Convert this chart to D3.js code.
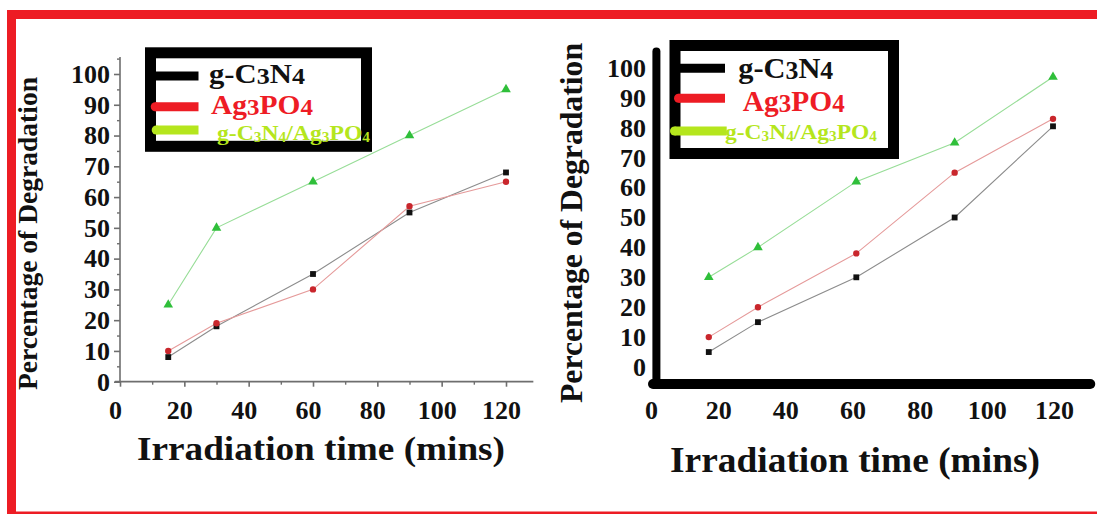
<!DOCTYPE html>
<html>
<head>
<meta charset="utf-8">
<script src="https://cdn.jsdelivr.net/npm/d3@7"></script>
<style>
  html, body { margin: 0; padding: 0; background: #ffffff; }
  svg { display: block; }
  text { font-family: "Liberation Serif", "Times New Roman", serif; font-weight: bold; }
</style>
</head>
<body>
<svg id="chart" width="1097" height="515"></svg>
<script>
// ---------------- data ----------------
const times = [15, 30, 60, 90, 120];
const seriesNames = ["g-C3N4", "Ag3PO4", "g-C3N4/Ag3PO4"];

const leftCN = [8, 18, 35, 55, 68];
const leftAg = [10, 19, 30, 57, 65];
const leftComposite = [25, 50, 65, 80, 95];

const rightCN = [5, 15, 30, 50, 80.5];
const rightAg = [10, 20, 38, 65, 83];
const rightComposite = [30, 40, 62, 75, 97];

const xTickValues = [0, 20, 40, 60, 80, 100, 120];
const xMinorValues = [10, 30, 50, 70, 90, 110];
const yTickValues = [0, 10, 20, 30, 40, 50, 60, 70, 80, 90, 100];
const yMinorValues = [5, 15, 25, 35, 45, 55, 65, 75, 85, 95, 105];

const xTitle = "Irradiation time (mins)";
const yTitle = "Percentage of Degradation";

// ---------------- styles ----------------
const serif = '"Liberation Serif", "Times New Roman", serif';
const frameRed = "#ed1c24";
const markerColors = ["#111111", "#c9262c", "#2fbf3a"];
const lineColors = ["#8c8c8c", "#e59a9a", "#97dd97"];
const legendLineColors = ["#000000", "#ed1c24", "#b5e61d"];
const legendTextColors = ["#111111", "#ee1c25", "#b5e61d"];

const svg = d3.select("#chart");

// ---------------- red frame ----------------
svg.append("rect").attr("x", 7).attr("y", 10).attr("width", 1090).attr("height", 9).attr("fill", frameRed);
svg.append("rect").attr("x", 7).attr("y", 10).attr("width", 9).attr("height", 504).attr("fill", frameRed);
svg.append("rect").attr("x", 7).attr("y", 511.5).attr("width", 1090).attr("height", 2.5).attr("fill", frameRed);

// helper: label with subscript digits (no empty tspans)
function addFormula(sel, label, subScale, subDy) {
  const parts = label.match(/[0-9]+|[^0-9]+/g);
  let shifted = false;
  parts.forEach(p => {
    const isSub = /^[0-9]+$/.test(p);
    const ts = sel.append("tspan").text(p);
    if (isSub) {
      ts.attr("font-size", (subScale * 100) + "%").attr("dy", shifted ? 0 : subDy);
      shifted = true;
    } else if (shifted) {
      ts.attr("dy", -subDy);
      shifted = false;
    }
  });
}

function styleTickText(axisG) {
  axisG.attr("font-family", serif).attr("font-weight", "bold");
  axisG.selectAll("text").attr("font-size", 26).attr("fill", "#111");
}

function drawSeries(g, xs, ys, data) {
  data.forEach((vals, i) => {
    const pts = times.map((t, j) => [xs(t), ys(vals[j])]);
    g.append("path")
      .attr("d", d3.line()(pts))
      .attr("fill", "none")
      .attr("stroke", lineColors[i])
      .attr("stroke-width", 1.1);
  });
  data.forEach((vals, i) => {
    const sym = i === 0 ? d3.symbolSquare : (i === 1 ? d3.symbolCircle : d3.symbolTriangle);
    const size = i === 0 ? 34 : (i === 1 ? 32 : 40);
    g.selectAll(null).data(vals).enter().append("path")
      .attr("d", d3.symbol().type(sym).size(size))
      .attr("transform", (d, j) => `translate(${xs(times[j])},${ys(d)})`)
      .attr("fill", markerColors[i]);
  });
}

function drawLegend(g, box, rows) {
  g.append("rect")
    .attr("x", box.x + 5.5).attr("y", box.y + 5.5)
    .attr("width", box.w - 11).attr("height", box.h - 11)
    .attr("fill", "#ffffff").attr("stroke", "#000000").attr("stroke-width", 11);
  rows.forEach((r, i) => {
    g.append("line")
      .attr("x1", r.x1).attr("x2", r.x2).attr("y1", r.y).attr("y2", r.y)
      .attr("stroke", legendLineColors[i]).attr("stroke-width", 9);
    if (r.round) {
      g.append("circle").attr("cx", r.x1).attr("cy", r.y).attr("r", 4.5).attr("fill", legendLineColors[i]);
    }
    const t = g.append("text")
      .attr("x", r.tx).attr("y", r.ty)
      .attr("font-size", r.fs)
      .attr("fill", legendTextColors[i]);
    if (r.len) t.attr("textLength", r.len).attr("lengthAdjust", "spacingAndGlyphs");
    addFormula(t, seriesNames[i], r.sub, r.subDy);
  });
}

// ================= LEFT CHART =================
const gL = svg.append("g");
const xL = d3.scaleLinear().domain([0, 120]).range([120, 506]);
const yL = d3.scaleLinear().domain([0, 100]).range([381.7, 74]);
const axisGrey = "#6e6e6e";

// axis lines
gL.append("line").attr("x1", xL(0)).attr("x2", xL(0))
  .attr("y1", yL(0)).attr("y2", yL(105.5)).attr("stroke", axisGrey).attr("stroke-width", 1.6);
gL.append("line").attr("x1", xL(-1.6)).attr("x2", xL(128.5))
  .attr("y1", yL(0)).attr("y2", yL(0)).attr("stroke", axisGrey).attr("stroke-width", 1.8);

// y axis (major + minor ticks)
const yAxisL = gL.append("g").attr("transform", `translate(${xL(0)},0)`)
  .call(d3.axisLeft(yL).tickValues(yTickValues).tickSize(6).tickPadding(4).tickFormat(d3.format("d")));
yAxisL.select(".domain").remove();
yAxisL.selectAll(".tick line").attr("stroke", axisGrey).attr("stroke-width", 1.6);
styleTickText(yAxisL);
const yMinorL = gL.append("g").attr("transform", `translate(${xL(0)},0)`)
  .call(d3.axisLeft(d3.scaleLinear().domain([0, 105]).range([yL(0), yL(105)])).tickValues(yMinorValues).tickSize(3).tickFormat(""));
yMinorL.select(".domain").remove();
yMinorL.selectAll(".tick line").attr("stroke", axisGrey).attr("stroke-width", 1.4);

// x axis
const xAxisL = gL.append("g").attr("transform", `translate(0,${yL(0)})`)
  .call(d3.axisBottom(xL).tickValues(xTickValues).tickSize(5).tickPadding(14).tickFormat(d3.format("d")));
xAxisL.select(".domain").remove();
xAxisL.selectAll(".tick line").attr("stroke", axisGrey).attr("stroke-width", 1.6);
styleTickText(xAxisL);
xAxisL.selectAll("text").attr("dx", -5);
const xMinorL = gL.append("g").attr("transform", `translate(0,${yL(0)})`)
  .call(d3.axisBottom(xL).tickValues(xMinorValues).tickSize(3).tickFormat(""));
xMinorL.select(".domain").remove();
xMinorL.selectAll(".tick line").attr("stroke", axisGrey).attr("stroke-width", 1.4);

drawSeries(gL, xL, yL, [leftCN, leftAg, leftComposite]);

// titles
gL.append("text").attr("transform", "translate(37,233.5) rotate(-90)")
  .attr("text-anchor", "middle").attr("font-size", 27).attr("fill", "#111")
  .attr("textLength", 313).attr("lengthAdjust", "spacingAndGlyphs").text(yTitle);
gL.append("text").attr("x", 321).attr("y", 460)
  .attr("text-anchor", "middle").attr("font-size", 34).attr("fill", "#111")
  .attr("textLength", 368).attr("lengthAdjust", "spacingAndGlyphs").text(xTitle);

drawLegend(gL, { x: 145, y: 47.3, w: 227, h: 104.5 }, [
  { x1: 155, x2: 198.5, y: 76, round: false, tx: 209, ty: 83, fs: 28, sub: 0.85, subDy: 1, len: 96 },
  { x1: 155.2, x2: 198.5, y: 106.7, round: true, tx: 211, ty: 113.8, fs: 28, sub: 0.85, subDy: 1, len: 102 },
  { x1: 156.2, x2: 198.5, y: 130, round: true, tx: 217, ty: 139.8, fs: 21, sub: 0.65, subDy: 2, len: 153 }
]);

// ================= RIGHT CHART =================
const gR = svg.append("g");
const xRAxis = d3.scaleLinear().domain([0, 120]).range([651, 1054]);
const xR = d3.scaleLinear().domain([0, 120]).range([659.6, 1053]);
const yR = d3.scaleLinear().domain([0, 100]).range([367, 68]);

// thick axis lines
gR.append("line").attr("x1", 656.4).attr("x2", 656.4)
  .attr("y1", yR(-5.5)).attr("y2", yR(105.5))
  .attr("stroke", "#000").attr("stroke-width", 8).attr("stroke-linecap", "round");
gR.append("line").attr("x1", xRAxis(0.6)).attr("x2", xRAxis(130.8))
  .attr("y1", yR(-5.7)).attr("y2", yR(-5.7))
  .attr("stroke", "#000").attr("stroke-width", 10).attr("stroke-linecap", "round");

const yAxisR = gR.append("g").attr("transform", "translate(648,0)")
  .call(d3.axisLeft(yR).tickValues(yTickValues).tickSize(0).tickPadding(2).tickFormat(d3.format("d")));
yAxisR.select(".domain").remove();
styleTickText(yAxisR);

const xAxisR = gR.append("g").attr("transform", "translate(0,382)")
  .call(d3.axisBottom(xRAxis).tickValues(xTickValues).tickSize(0).tickPadding(19).tickFormat(d3.format("d")));
xAxisR.select(".domain").remove();
styleTickText(xAxisR);

drawSeries(gR, xR, yR, [rightCN, rightAg, rightComposite]);

gR.append("text").attr("transform", "translate(582,223) rotate(-90)")
  .attr("text-anchor", "middle").attr("font-size", 31).attr("fill", "#111")
  .attr("textLength", 360).attr("lengthAdjust", "spacingAndGlyphs").text(yTitle);
gR.append("text").attr("x", 855).attr("y", 471.7)
  .attr("text-anchor", "middle").attr("font-size", 36).attr("fill", "#111")
  .attr("textLength", 370).attr("lengthAdjust", "spacingAndGlyphs").text(xTitle);

drawLegend(gR, { x: 669.5, y: 40, w: 229.5, h: 119 }, [
  { x1: 680, x2: 725, y: 68.3, round: false, tx: 738.3, ty: 77.7, fs: 29, sub: 0.85, subDy: 1, len: 95 },
  { x1: 678.5, x2: 725, y: 98.3, round: true, tx: 742.7, ty: 111, fs: 29, sub: 0.85, subDy: 1, len: 102 },
  { x1: 674.5, x2: 726.7, y: 131, round: true, tx: 725, ty: 138.8, fs: 21, sub: 0.65, subDy: 2, len: 152 }
]);
</script>
</body>
</html>
